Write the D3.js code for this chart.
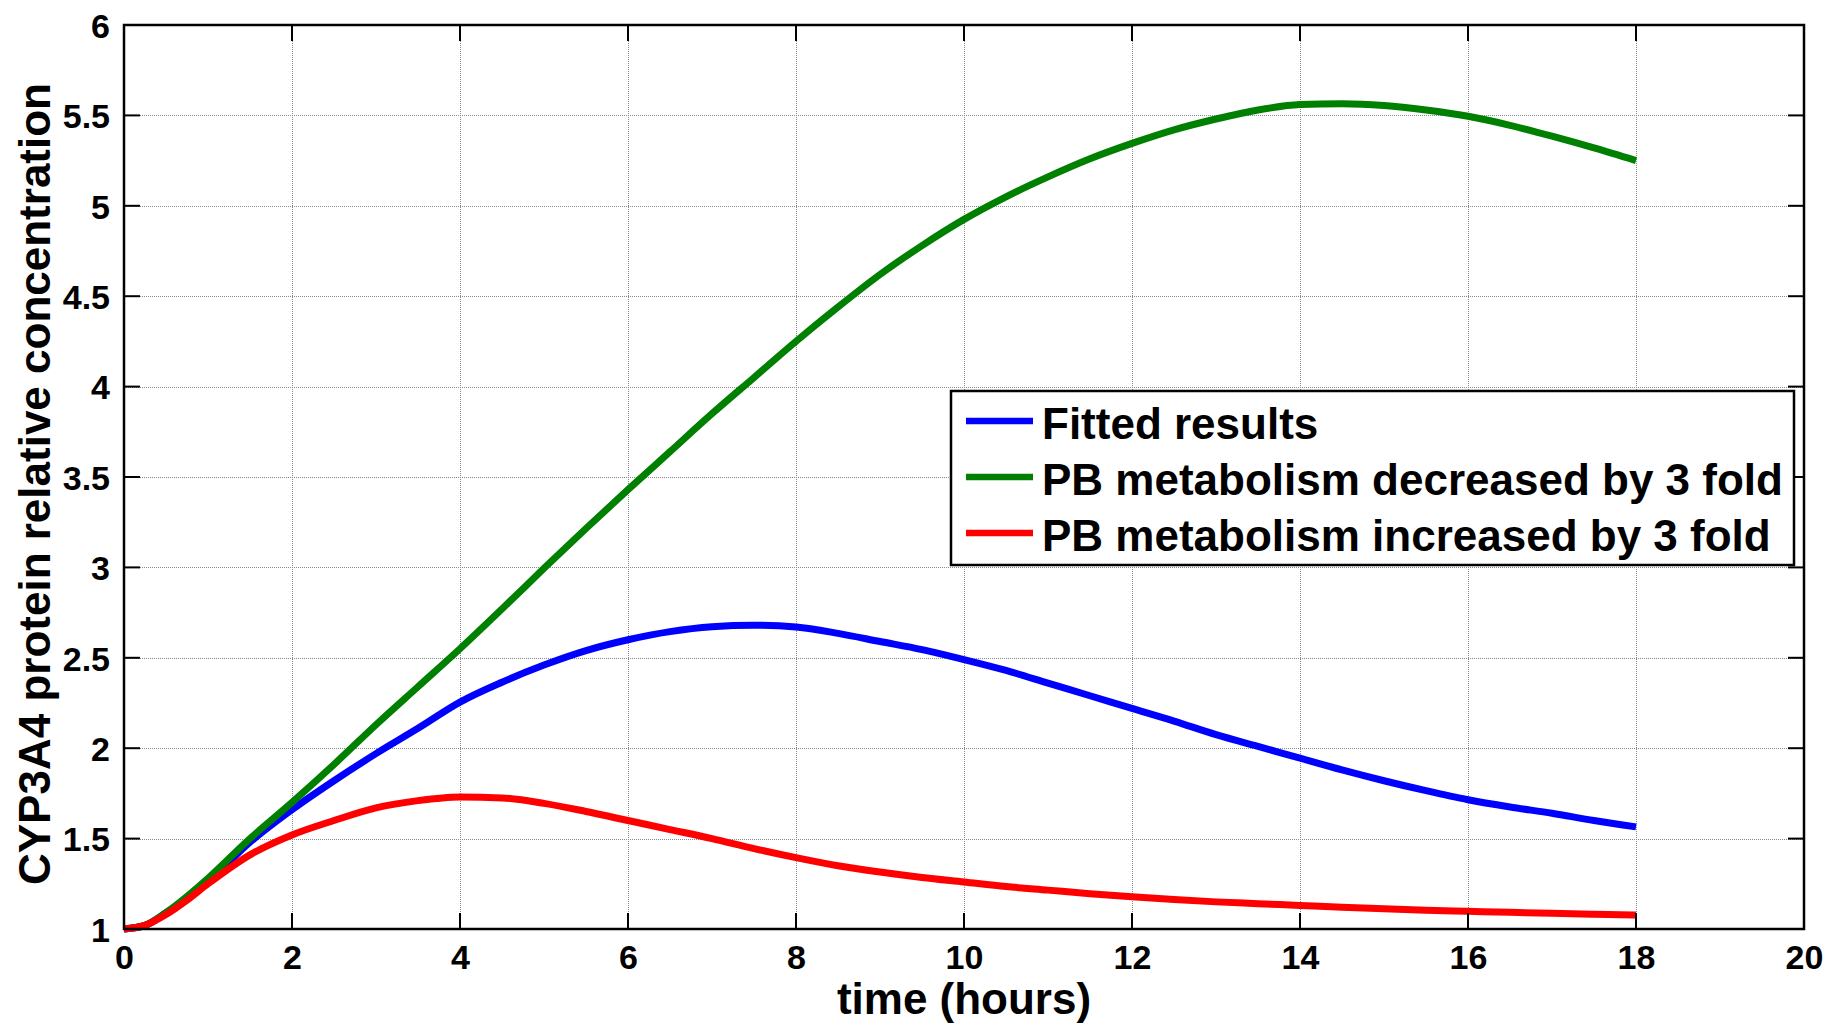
<!DOCTYPE html>
<html>
<head>
<meta charset="utf-8">
<script src="https://cdn.jsdelivr.net/npm/d3@7"></script>
<style>
  html, body { margin: 0; padding: 0; background: #fff; }
  svg { display: block; }
  text { font-family: "Liberation Sans", Arial, Helvetica, sans-serif; font-weight: bold; fill: #000; }
</style>
</head>
<body>
<script>
// Simulation time points (hours)
const time = [0, 0.25, 0.5, 0.75, 1, 1.5, 2, 2.5, 3, 3.5, 4, 4.5, 5, 5.5, 6, 6.5, 7, 7.5, 8, 8.5,
  9, 9.5, 10, 10.5, 11, 11.5, 12, 12.5, 13, 13.5, 14, 14.5, 15, 15.5, 16, 16.5, 17, 17.5, 18];

// CYP3A4 protein relative concentration for each scenario
const fitted = [1.0, 1.02, 1.09, 1.17, 1.26, 1.48, 1.66, 1.82, 1.97, 2.11, 2.255, 2.365, 2.46, 2.54,
  2.60, 2.645, 2.672, 2.68, 2.67, 2.635, 2.59, 2.545, 2.49, 2.43, 2.36, 2.29, 2.22, 2.15, 2.075,
  2.01, 1.945, 1.88, 1.82, 1.765, 1.715, 1.675, 1.64, 1.60, 1.565];
const decreased = [1.0, 1.02, 1.09, 1.18, 1.28, 1.50, 1.70, 1.91, 2.13, 2.34, 2.55, 2.77, 2.995,
  3.215, 3.43, 3.64, 3.85, 4.05, 4.25, 4.44, 4.62, 4.78, 4.925, 5.05, 5.16, 5.26, 5.345, 5.42, 5.48,
  5.53, 5.56, 5.565, 5.555, 5.53, 5.495, 5.445, 5.385, 5.32, 5.25];
const increased = [1.0, 1.02, 1.08, 1.16, 1.25, 1.41, 1.52, 1.60, 1.67, 1.71, 1.73, 1.725, 1.695,
  1.65, 1.60, 1.55, 1.50, 1.445, 1.395, 1.35, 1.315, 1.285, 1.26, 1.235, 1.215, 1.195, 1.178, 1.163,
  1.15, 1.14, 1.13, 1.12, 1.112, 1.104, 1.098, 1.092, 1.087, 1.082, 1.077];

const seriesNames = ["Fitted results", "PB metabolism decreased by 3 fold", "PB metabolism increased by 3 fold"];
const seriesColors = ["#0000ff", "#008000", "#ff0000"];

const xTickValues = [0, 2, 4, 6, 8, 10, 12, 14, 16, 18, 20];
const xTickLabels = ["0", "2", "4", "6", "8", "10", "12", "14", "16", "18", "20"];
const yTickValues = [1, 1.5, 2, 2.5, 3, 3.5, 4, 4.5, 5, 5.5, 6];
const yTickLabels = ["1", "1.5", "2", "2.5", "3", "3.5", "4", "4.5", "5", "5.5", "6"];

const xTitle = "time (hours)";
const yTitle = "CYP3A4 protein relative concentration";

const W = 1830, H = 1026;
const plot = { left: 124, right: 1804, top: 25, bottom: 929 };

const svg = d3.select("body").append("svg").attr("width", W).attr("height", H);

const x = d3.scaleLinear().domain([0, 20]).range([plot.left, plot.right]);
const y = d3.scaleLinear().domain([1, 6]).range([plot.bottom, plot.top]);

// dotted grid
const grid = svg.append("g").attr("stroke", "#8a8a8a").attr("stroke-width", 1)
  .attr("stroke-dasharray", "1,1").attr("shape-rendering", "crispEdges");
grid.selectAll("line.v").data(xTickValues.slice(1, -1)).join("line")
  .attr("x1", d => Math.round(x(d)) + 0.5).attr("x2", d => Math.round(x(d)) + 0.5)
  .attr("y1", plot.top).attr("y2", plot.bottom);
grid.selectAll("line.h").data(yTickValues.slice(1, -1)).join("line")
  .attr("y1", d => Math.round(y(d)) + 0.5).attr("y2", d => Math.round(y(d)) + 0.5)
  .attr("x1", plot.left).attr("x2", plot.right);

// data lines
const rows = [fitted, decreased, increased];
const line = d3.line().x((d, i) => x(time[i])).y(d => y(d)).curve(d3.curveMonotoneX);
svg.append("g").selectAll("path").data(rows).join("path")
  .attr("d", d => line(d))
  .attr("fill", "none")
  .attr("stroke", (d, i) => seriesColors[i])
  .attr("stroke-width", 7)
  .attr("stroke-linejoin", "round")
  .attr("stroke-linecap", "butt");

// axes with labels
const xAxis = d3.axisBottom(x).tickValues(xTickValues)
  .tickFormat((d, i) => xTickLabels[i]).tickSize(0).tickPadding(16);
const gx = svg.append("g").attr("transform", `translate(0,${plot.bottom})`).call(xAxis);
gx.select(".domain").remove();
gx.selectAll("text").style("font-size", "34px");

const yAxis = d3.axisLeft(y).tickValues(yTickValues)
  .tickFormat((d, i) => yTickLabels[i]).tickSize(0).tickPadding(14);
const gy = svg.append("g").attr("transform", `translate(${plot.left},0)`).call(yAxis);
gy.select(".domain").remove();
gy.selectAll("text").style("font-size", "34px").attr("dy", "0.36em");

// inward ticks on all four sides
const tk = 16;
const ticks = svg.append("g").attr("stroke", "#000").attr("stroke-width", 2);
xTickValues.forEach(v => {
  ticks.append("line").attr("x1", x(v)).attr("x2", x(v)).attr("y1", plot.bottom).attr("y2", plot.bottom - tk);
  ticks.append("line").attr("x1", x(v)).attr("x2", x(v)).attr("y1", plot.top).attr("y2", plot.top + tk);
});
yTickValues.forEach(v => {
  ticks.append("line").attr("y1", y(v)).attr("y2", y(v)).attr("x1", plot.left).attr("x2", plot.left + tk);
  ticks.append("line").attr("y1", y(v)).attr("y2", y(v)).attr("x1", plot.right).attr("x2", plot.right - tk);
});

// axes box
svg.append("rect")
  .attr("x", plot.left).attr("y", plot.top)
  .attr("width", plot.right - plot.left).attr("height", plot.bottom - plot.top)
  .attr("fill", "none").attr("stroke", "#000").attr("stroke-width", 2.5);

// axis titles
svg.append("text").attr("x", (plot.left + plot.right) / 2).attr("y", 1014)
  .attr("text-anchor", "middle").style("font-size", "44px").text(xTitle);
svg.append("text").attr("transform", "translate(50,484) rotate(-90)")
  .attr("text-anchor", "middle").style("font-size", "44px").text(yTitle);

// legend
const lg = { x: 951, y: 391, w: 843, h: 174 };
const legend = svg.append("g");
legend.append("rect").attr("x", lg.x).attr("y", lg.y).attr("width", lg.w).attr("height", lg.h)
  .attr("fill", "#fff").attr("stroke", "#000").attr("stroke-width", 2.5);
const rowY = [421, 477, 533];
seriesNames.forEach((name, i) => {
  legend.append("line").attr("x1", 966).attr("x2", 1033).attr("y1", rowY[i]).attr("y2", rowY[i])
    .attr("stroke", seriesColors[i]).attr("stroke-width", 6.5);
  legend.append("text").attr("x", 1042).attr("y", rowY[i] + 18)
    .style("font-size", "44px").text(name);
});
</script>
</body>
</html>
